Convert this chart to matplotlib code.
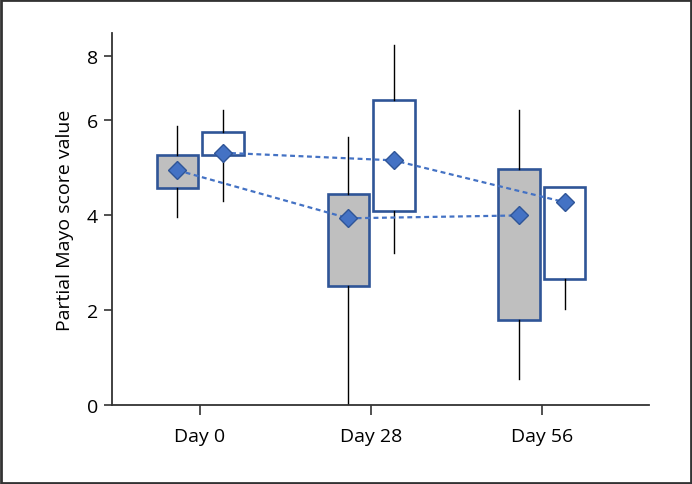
import numpy as np
import matplotlib.pyplot as plt
from matplotlib.patches import Rectangle

plt.rcParams['font.family'] = ['Open Sans', 'DejaVu Sans']

# Data
days = ['Day 0', 'Day 28', 'Day 56']

# grey boxes (first group)
grey_q1 = [4.56, 2.50, 1.78]
grey_q3 = [5.27, 4.45, 4.96]
grey_lo = [3.95, 0.00, 0.55]
grey_hi = [5.88, 5.64, 6.31]
grey_mean = [4.94, 3.93, 3.99]

# white boxes (second group)
white_q1 = [5.27, 4.09, 2.66]
white_q3 = [5.74, 6.62, 4.59]
white_lo = [4.29, 3.19, 2.03]
white_hi = [6.32, 8.34, 4.59]
white_mean = [5.31, 5.15, 4.27]

# the y axis in the reference is compressed above 6
K = 0.672


def fwd(y):
    y = np.asarray(y, dtype=float)
    return np.where(y <= 6, y, 6 + (y - 6) * K)


def inv(y):
    y = np.asarray(y, dtype=float)
    return np.where(y <= 6, y, 6 + (y - 6) / K)


def stats(q1, q3, lo, hi):
    return [dict(q1=a, q3=b, med=(a + b) / 2, whislo=c, whishi=d, fliers=[])
            for a, b, c, d in zip(q1, q3, lo, hi)]


fig = plt.figure(figsize=(6.92, 4.85), dpi=100)
ax = fig.add_axes([112 / 692, 1 - 406 / 485, (649 - 112) / 692, (406 - 34) / 485])
ax.set_yscale('function', functions=(fwd, inv))

x = np.arange(len(days))
off = 0.132
w = 0.245
edge = '#2F5597'
dash_col = '#4472C4'

for st, pos, fc in [(stats(grey_q1, grey_q3, grey_lo, grey_hi), x - off, '#BFBFBF'),
                    (stats(white_q1, white_q3, white_lo, white_hi), x + off, 'white')]:
    ax.bxp(st, positions=pos, widths=w, patch_artist=True, showcaps=False,
           showfliers=False,
           boxprops=dict(facecolor=fc, edgecolor=edge, linewidth=1.9),
           whiskerprops=dict(color='black', linewidth=1.0),
           medianprops=dict(linewidth=0), manage_ticks=False, zorder=2)

for pos, m in [(x - off, grey_mean), (x + off, white_mean)]:
    ax.plot(pos, m, color=dash_col, linestyle=(0, (2.2, 1.6)), linewidth=1.6, zorder=3)
    ax.plot(pos, m, linestyle='none', marker='D', markersize=9.5,
            markerfacecolor='#4472C4', markeredgecolor=edge, markeredgewidth=1.0, zorder=4)

ax.set_xlim(-0.515, 2.626)
ax.set_ylim(0, inv(7.83))
ax.set_xticks(x)
ax.set_xticklabels(days)
ax.set_yticks([0, 2, 4, 6, 8])
ax.set_yticklabels(['0', '2', '4', '6', '8'])
ax.tick_params(axis='x', length=7, width=1.2, color='#333333', labelsize=14, pad=9)
ax.tick_params(axis='y', length=6, width=1.2, color='#333333', labelsize=14, pad=4)
ax.set_ylabel('Partial Mayo score value', fontsize=14, labelpad=9)

for s in ['top', 'right']:
    ax.spines[s].set_visible(False)
for s in ['left', 'bottom']:
    ax.spines[s].set_color('#333333')
    ax.spines[s].set_linewidth(1.3)

# frame around the whole figure
fig.patches.append(Rectangle((0.002, 0.002), 0.996, 0.995, transform=fig.transFigure,
                             fill=False, edgecolor='#333333', linewidth=2))

fig.savefig('out.png', dpi=100)
